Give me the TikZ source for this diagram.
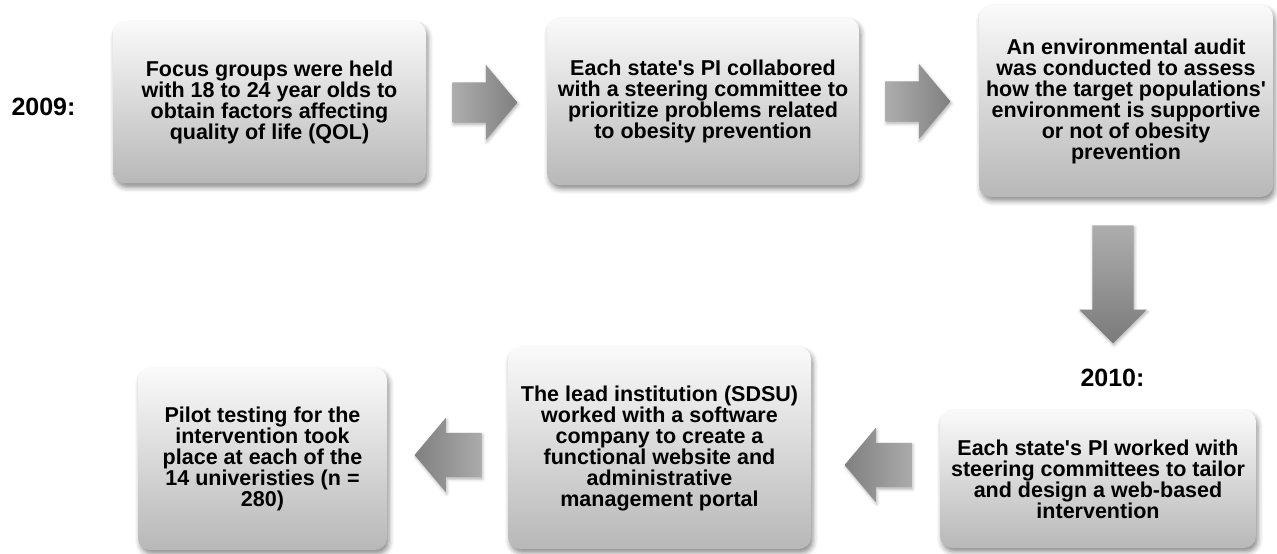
\documentclass[tikz,border=0pt]{standalone}
\usepackage{fontspec}
\newfontfamily\boxfont{Liberation Sans}
\usetikzlibrary{positioning,shapes.arrows,shadows.blur}

\begin{document}
\begin{tikzpicture}[x=1pt,y=1pt,
	phase/.style={rounded corners=12pt,top color=black!2,bottom color=black!28,inner sep=0pt,align=center,
		blur shadow={shadow xshift=2pt,shadow yshift=-4pt,shadow blur radius=5pt,shadow opacity=45},
		font=\boxfont\bfseries\fontsize{21.5}{21}\selectfont},
	year/.style={font=\boxfont\bfseries\fontsize{25}{25}\selectfont},
	blockarrow/.style={single arrow,draw=none,single arrow tip angle=100,
		blur shadow={shadow xshift=1pt,shadow yshift=-2pt,shadow blur radius=3pt,shadow opacity=30}},
	arrowr/.style={blockarrow,inner xsep=0pt,inner ysep=20pt,minimum height=65pt,single arrow head extend=17.5pt,left color=black!32,right color=black!50},
	arrowl/.style={blockarrow,shape border rotate=180,inner xsep=0pt,inner ysep=22pt,minimum height=67pt,single arrow head extend=15pt,left color=black!50,right color=black!33},
	arrowd/.style={blockarrow,shape border rotate=270,inner sep=20.5pt,minimum height=118pt,single arrow head extend=13pt,single arrow tip angle=90,top color=black!32,bottom color=black!52}]
	\useasboundingbox (0,0) rectangle (1277,554);

	% 2009
	\node[year]		(y2009)		at (43.5,447)		{2009:};
	\node[phase,minimum width=313pt,minimum height=162pt]	(focus)	at (269.5,451.5)	{Focus groups were held\\with 18 to 24 year olds to\\obtain factors affecting\\quality of life (QOL)};
	\node[phase,minimum width=312pt,minimum height=167pt]	(collab)	at (703,452.5)		{Each state's PI collabored\\with a steering committee to\\prioritize problems related\\to obesity prevention};
	\node[phase,minimum width=294pt,minimum height=192pt]	(audit)	at (1126,453)		{An environmental audit\\was conducted to assess\\how the target populations'\\environment is supportive\\or not of obesity\\prevention};

	% 2010
	\node[year]		(y2010)		at (1112.5,176)		{2010:};
	\node[phase,minimum width=316pt,minimum height=138pt]	(tailor)	at (1098,75)		{Each state's PI worked with\\steering committees to tailor\\and design a web-based\\intervention};
	\node[phase,minimum width=303pt,minimum height=202pt]	(website)	at (659.5,106)		{The lead institution (SDSU)\\worked with a software\\company to create a\\functional website and\\administrative\\management portal};
	\node[phase,minimum width=249pt,minimum height=182pt]	(pilot)	at (262.5,95)		{Pilot testing for the\\intervention took\\place at each of the\\14 univeristies (n =\\280)};

	\node[arrowr]	(a1)	[right=26pt of focus]				{};
	\node[arrowr]	(a2)	[right=26pt of collab]				{};
	\node[arrowd]	(a3)	[below=28pt of audit,xshift=-13pt]	{};
	\node[arrowl]	(a4)	[left=28pt of tailor,yshift=14pt]	{};
	\node[arrowl]	(a5)	[left=26pt of website,yshift=-7pt]	{};
\end{tikzpicture}
\end{document}
